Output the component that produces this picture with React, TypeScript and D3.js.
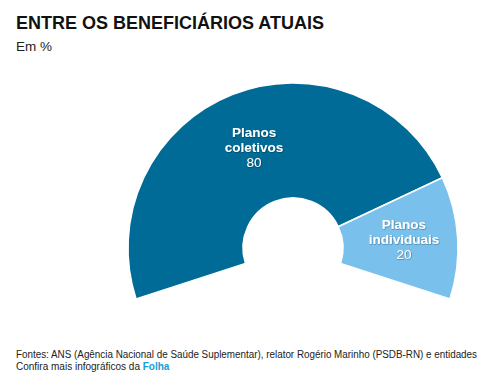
import React from "react";
import * as d3 from "d3";

const categories = ["Planos coletivos", "Planos individuais"];
const labelLines = [["Planos", "coletivos"], ["Planos", "individuais"]];
const values = [80, 20];
const colors = ["#006b96", "#79c1ec"];

export default function App() {
  const W = 502, H = 384;
  const cx = 293, cy = 248, rOuter = 165, rInner = 50;
  const span = 0.6 * Math.PI;
  const pie = d3.pie<number>().sort(null).startAngle(-span).endAngle(span);
  const arcs = pie(values);
  const arc = d3.arc<d3.PieArcDatum<number>>().innerRadius(rInner).outerRadius(rOuter);
  const labelPos = [
    [254 - cx, 137 - cy],
    [404 - cx, 229 - cy],
  ];
  const font = "Arial, 'Liberation Sans', sans-serif";
  return (
    <svg width={W} height={H} style={{ position: "absolute", left: 0, top: 0, background: "#fff" }} fontFamily={font}>
      <defs>
        <filter id="ts" x="-20%" y="-20%" width="140%" height="140%">
          <feDropShadow dx="0.5" dy="0.5" stdDeviation="0.6" floodColor="#000" floodOpacity="0.5" />
        </filter>
      </defs>
      <text x={16} y={29} fontSize={18} fontWeight="bold" fill="#111">ENTRE OS BENEFICIÁRIOS ATUAIS</text>
      <text x={16} y={51} fontSize={13.5} fill="#222">Em %</text>
      <g transform={`translate(${cx},${cy})`}>
        {arcs.map((a, i) => (
          <path key={categories[i]} d={arc(a) || ""} fill={colors[i]} stroke="#fff" strokeWidth={1.5} />
        ))}
        {arcs.map((a, i) => (
          <text key={"l" + i} x={labelPos[i][0]} y={labelPos[i][1]} textAnchor="middle" fill="#fff" fontSize={13.5} filter="url(#ts)">
            <tspan x={labelPos[i][0]} fontWeight="bold">{labelLines[i][0]}</tspan>
            <tspan x={labelPos[i][0]} dy={15} fontWeight="bold">{labelLines[i][1]}</tspan>
            <tspan x={labelPos[i][0]} dy={14.5}>{values[i]}</tspan>
          </text>
        ))}
      </g>
      <text x={16} y={358} fontSize={10} fill="#222" textLength={461} lengthAdjust="spacingAndGlyphs">Fontes: ANS (Agência Nacional de Saúde Suplementar), relator Rogério Marinho (PSDB-RN) e entidades</text>
      <text x={16} y={370} fontSize={10} fill="#222">Confira mais infográficos da <tspan fill="#1a9ad6" fontWeight="bold">Folha</tspan></text>
    </svg>
  );
}
